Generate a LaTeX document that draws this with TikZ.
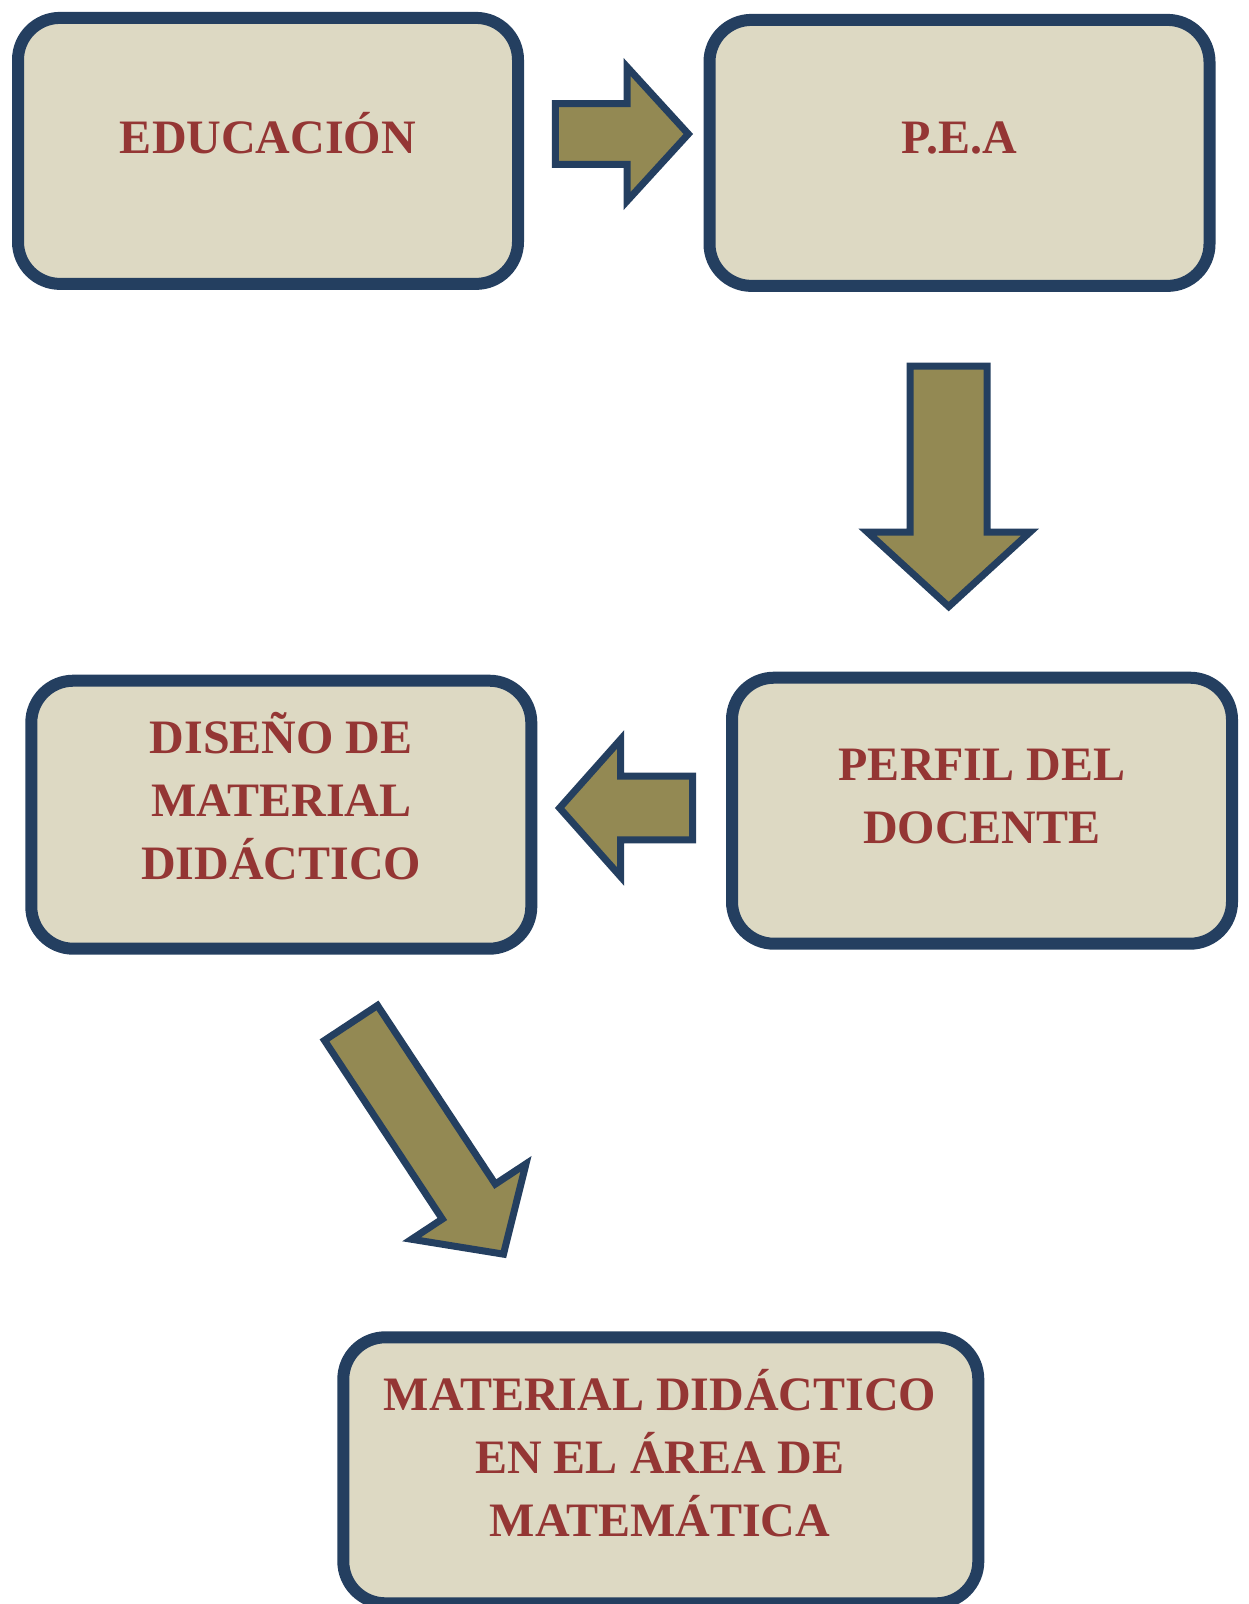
\documentclass[tikz,border=0pt]{standalone}
\usepackage{fontspec}
\setmainfont{Liberation Serif}
\definecolor{box-fill}{RGB}{221,217,195}
\definecolor{frame}{RGB}{36,63,96}
\definecolor{label-red}{RGB}{148,54,52}
\definecolor{arrow-fill}{RGB}{147,137,83}
\tikzset{
    card/.style = {draw=frame, fill=box-fill, line width=6pt,
        rounded corners=21pt, inner sep=0pt},
    cardtext/.style = {text=label-red, align=center, inner sep=0pt, anchor=base,
        font=\bfseries\fontsize{24}{31.6}\selectfont},
    pics/blockarrow/.style n args = {4}{
        code = {%
        \filldraw[fill=arrow-fill, draw=frame, line width=3.5pt]
            (0,-#2) -- ({#1-#4},-#2) -- ({#1-#4},-#3) -- (#1,0)
         -- ({#1-#4},#3) -- ({#1-#4},#2) -- (0,#2) -- cycle;
        }
    }
}
\begin{document}
\begin{tikzpicture}[x=0.5pt,y=-0.5pt]
\useasboundingbox (0,0) rectangle (1248,1604);

\node[card, minimum width=250pt, minimum height=133pt] (edu) at (268,150.9) {};
\node[cardtext] (edu-text) at (268,153.4) {EDUCACIÓN};

\node[card, minimum width=250pt, minimum height=133pt] (pea) at (959.5,152.9) {};
\node[cardtext] (pea-text) at (959.5,153.4) {P.E.A};

\node[card, minimum width=250pt, minimum height=134pt] (diseno) at (281.3,814.7) {};
\node[cardtext] (diseno-text) at (281.3,879.7) {DISEÑO DE\\MATERIAL\\DIDÁCTICO};

\node[card, minimum width=250pt, minimum height=133pt] (perfil) at (982,810.7) {};
\node[cardtext] (perfil-text) at (982,843.9) {PERFIL DEL\\DOCENTE};

\node[card, minimum width=317.5pt, minimum height=133pt] (matdid) at (660.8,1470.3) {};
\node[cardtext] (matdid-text) at (660,1536.4) {MATERIAL DIDÁCTICO\\EN EL ÁREA DE\\MATEMÁTICA};

\pic at (555.4,134) {blockarrow={132.9}{30.3}{67.1}{61.3}};
\pic[rotate=-90] at (948.7,366.1) {blockarrow={240.5}{38.5}{81.3}{74.5}};
\pic[rotate=180] at (692.6,808) {blockarrow={133}{31.8}{68.6}{61}};
\pic[rotate=-56.6] at (351,1022.9) {blockarrow={277}{31.75}{68.5}{63}};
\end{tikzpicture}
\end{document}
